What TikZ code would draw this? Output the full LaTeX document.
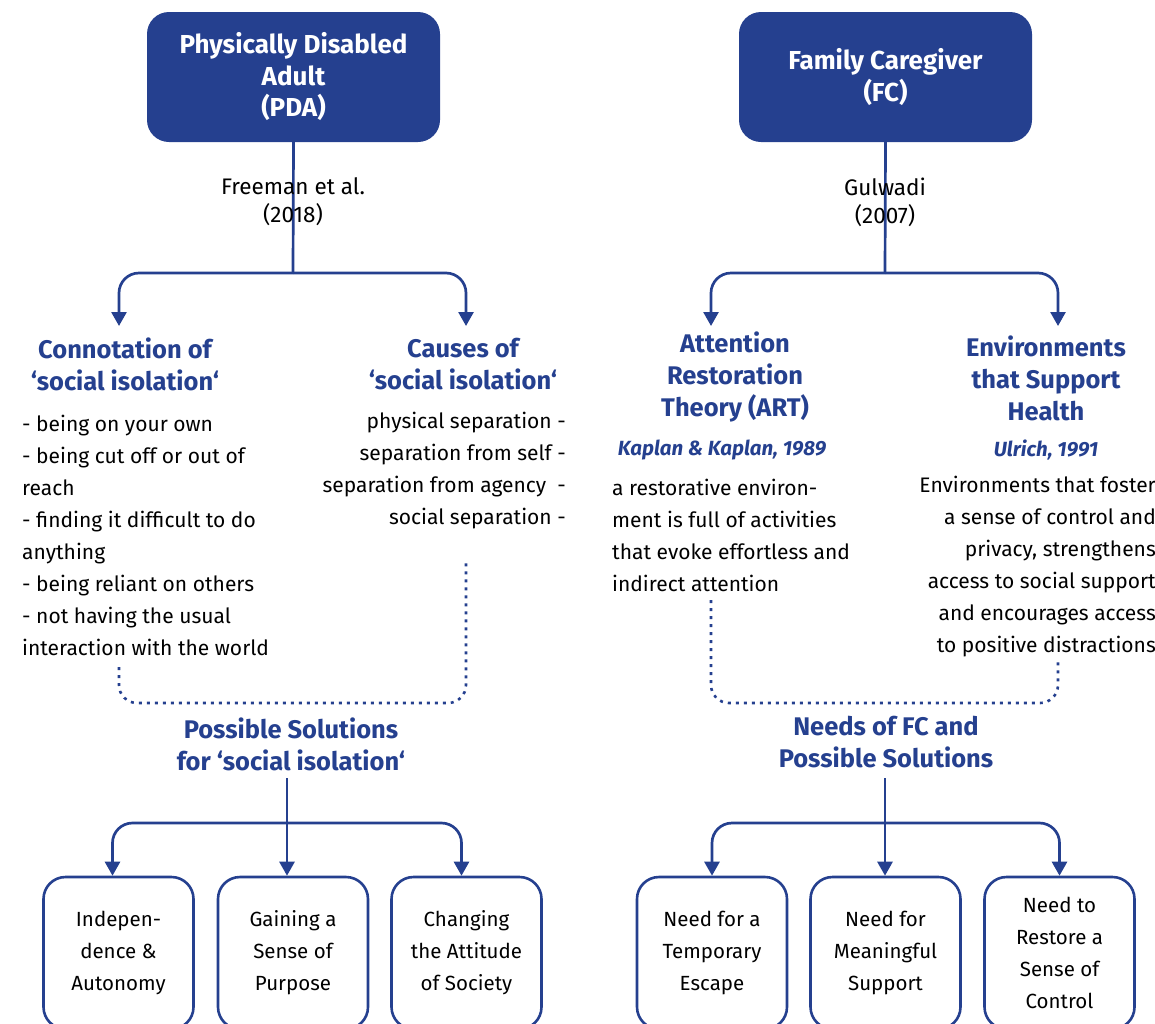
\documentclass[tikz,border=0pt]{standalone}
\usepackage{fontspec}
\setmainfont{Fira Sans}
\usetikzlibrary{arrows.meta}
\definecolor{navy}{RGB}{37,64,143}
\tikzset{
  bodytxt/.style={font=\fontsize{21}{32}\selectfont, inner sep=0pt, text=black},
  reftxt/.style={font=\fontsize{22.5}{28}\selectfont, inner sep=0pt, text=black, align=center},
  headtxt/.style={font=\fontsize{25.5}{32}\selectfont\bfseries, text=navy, align=center, inner sep=0pt},
  citetxt/.style={font=\fontsize{20.5}{24}\selectfont\bfseries\itshape, text=navy, inner sep=0pt},
  topbox/.style={rectangle, rounded corners=22pt, fill=navy, draw=none, text=white,
    minimum width=293pt, minimum height=130pt, align=center, inner sep=0pt,
    font=\fontsize{26}{31.5}\selectfont\bfseries},
  leafbox/.style={rectangle, rounded corners=22pt, draw=navy, line width=2.6pt,
    minimum width=150pt, minimum height=152pt, align=center, inner sep=0pt,
    font=\fontsize{20.5}{32}\selectfont},
  conn/.style={draw=navy, line width=2.7pt},
  arr/.style={conn, -{Triangle[width=15pt,length=14pt]}},
  dots/.style={draw=navy, line width=2.6pt, dash pattern=on 3pt off 5pt, rounded corners=18pt},
}
\begin{document}
\begin{tikzpicture}[x=1pt,y=-1pt]
\useasboundingbox (0,0) rectangle (1155,1023);
\begin{scope}
\clip (0,0) rectangle (1155,1023);

% ---------- top boxes ----------
\node[topbox] (pda) at (293.5,77) {Physically Disabled\\Adult\\(PDA)};
\node[topbox] (fc) at (885.5,77) {Family Caregiver\\(FC)};

% ---------- top connectors ----------
\coordinate (jP) at (293,273);
\coordinate (jF) at (885,273);
\coordinate (tCon) at (119,326);
\coordinate (tCau) at (466,326);
\coordinate (tArt) at (711,326);
\coordinate (tEnv) at (1058,326);
\draw[conn] (pda.south) -- (jP);
\draw[conn] (fc.south) -- (jF);
\draw[arr, rounded corners=20pt] (jP) -| (tCon);
\draw[arr, rounded corners=20pt] (jP) -| (tCau);
\draw[arr, rounded corners=20pt] (jF) -| (tArt);
\draw[arr, rounded corners=20pt] (jF) -| (tEnv);

\node[reftxt] (free) at (293,202) {Freeman et al.\\(2018)};
\node[reftxt] (gulw) at (885,202) {Gulwadi\\(2007)};

% ---------- headings ----------
\node[headtxt] (con) at (125,364) {Connotation of\\‘social isolation‘};
\node[headtxt] (cau) at (463,364) {Causes of\\‘social isolation‘};
\node[headtxt] (art) at (735,377) {Attention\\Restoration\\Theory (ART)};
\node[headtxt] (env) at (1046,378) {Environments\\that Support\\Health};
\node[citetxt] (kap) at (722,450) {Kaplan \& Kaplan, 1989};
\node[citetxt] (ulr) at (1046,450) {Ulrich, 1991};

% ---------- body texts ----------
\node[bodytxt, anchor=west, align=left] (conlist) at (22,535) {- being on your own\\- being cut off or out of\\reach\\- finding it difficult to do\\anything\\- being reliant on others\\- not having the usual\\interaction with the world};
\node[bodytxt, anchor=east, align=right] (caulist) at (566,471) {physical separation -\\separation from self -\\separation from agency\ \ -\\social separation -};
\node[bodytxt, anchor=west, align=left] (arttxt) at (612,535) {a restorative environ-\\ment is full of activities\\that evoke effortless and\\indirect attention};
\node[bodytxt, anchor=east, align=right] (envtxt) at (1156,567) {Environments that foster\\a sense of control and\\privacy, strengthens\\access to social support\\and encourages access\\to positive distractions};

% ---------- dotted merges ----------
\coordinate (dA) at (119,667);
\coordinate (dC) at (466,703);
\coordinate (dB) at (466,560);
\draw[dots] (dA) |- (dC) -- (dB);
\coordinate (eA) at (711,600);
\coordinate (eC) at (1058,703);
\coordinate (eB) at (1058,660);
\draw[dots] (eA) |- (eC) -- (eB);

% ---------- lower headings ----------
\node[headtxt] (sol) at (291,744) {Possible Solutions\\for ‘social isolation‘};
\node[headtxt] (need) at (886,742) {Needs of FC and\\Possible Solutions};

% ---------- leaf boxes ----------
\node[leafbox] (b1) at (118.5,953) {Indepen-\\dence \&\\Autonomy};
\node[leafbox] (b2) at (293,953) {Gaining a\\Sense of\\Purpose};
\node[leafbox] (b3) at (466.5,953) {Changing\\the Attitude\\of Society};
\node[leafbox] (c1) at (712,953) {Need for a\\Temporary\\Escape};
\node[leafbox] (c2) at (885.5,953) {Need for\\Meaningful\\Support};
\node[leafbox] (c3) at (1059.5,953) {Need to\\Restore a\\Sense of\\Control};

% ---------- lower connectors ----------
\coordinate (sS) at (287,778);
\coordinate (sJ) at (287,823);
\coordinate (nS) at (885,778);
\coordinate (nJ) at (885,823);
\draw[arr] (sS) -- (sS |- b2.north);
\draw[arr, rounded corners=20pt] (sJ) -| ([xshift=-6pt]b1.north);
\draw[arr, rounded corners=20pt] (sJ) -| ([xshift=-5pt]b3.north);
\draw[arr] (nS) -- (nS |- c2.north);
\draw[arr, rounded corners=20pt] (nJ) -| (c1.north);
\draw[arr, rounded corners=20pt] (nJ) -| (c3.north);
\end{scope}
\end{tikzpicture}
\end{document}
